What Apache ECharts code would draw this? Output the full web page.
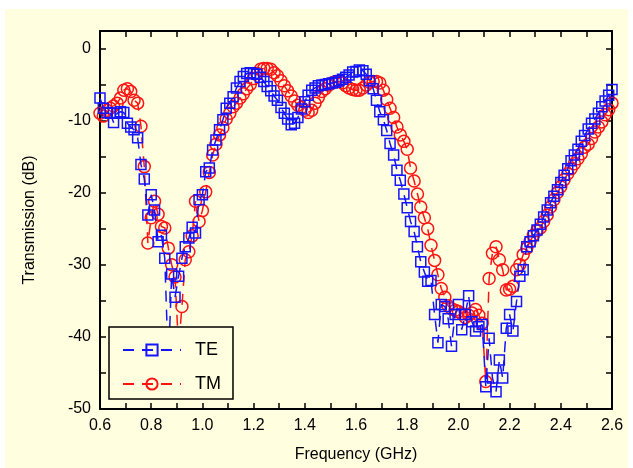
<!DOCTYPE html>
<html><head><meta charset="utf-8">
<script src="https://cdn.jsdelivr.net/npm/echarts@6/dist/echarts.min.js"></script>
<style>html,body{margin:0;padding:0;background:#fff}#c{width:633px;height:468px}</style>
</head><body><div id="c"></div>
<script>
const freq = [
0.600,0.613,0.627,0.640,0.653,0.667,0.680,0.693,0.707,0.720,0.733,0.747,0.760,0.773,0.787,
0.800,0.813,0.827,0.840,0.853,0.867,0.880,0.893,0.907,0.920,0.933,0.947,0.960,0.973,0.987,
1.000,1.013,1.027,1.040,1.053,1.067,1.080,1.093,1.107,1.120,1.133,1.147,1.160,1.173,1.187,
1.200,1.213,1.227,1.240,1.253,1.267,1.280,1.293,1.307,1.320,1.333,1.347,1.360,1.373,1.387,
1.400,1.413,1.427,1.440,1.453,1.467,1.480,1.493,1.507,1.520,1.533,1.547,1.560,1.573,1.587,
1.600,1.613,1.627,1.640,1.653,1.667,1.680,1.693,1.707,1.720,1.733,1.747,1.760,1.773,1.787,
1.800,1.813,1.827,1.840,1.853,1.867,1.880,1.893,1.907,1.920,1.933,1.947,1.960,1.973,1.987,
2.000,2.013,2.027,2.040,2.053,2.067,2.080,2.093,2.107,2.120,2.133,2.147,2.160,2.173,2.187,
2.200,2.213,2.227,2.240,2.253,2.267,2.280,2.293,2.307,2.320,2.333,2.347,2.360,2.373,2.387,
2.400,2.413,2.427,2.440,2.453,2.467,2.480,2.493,2.507,2.520,2.533,2.547,2.560,2.573,2.587,
2.600];
const teDb = [
-6.9,-8.3,-8.9,-9.0,-10.3,-9.0,-8.8,-8.9,-10.4,-10.9,-11.3,-12.4,-16.1,-18.1,-23.1,
-20.3,-22.4,-26.8,-25.9,-29.1,-44.0,-31.3,-34.5,-31.6,-29.1,-27.5,-26.3,-24.8,-25.6,-21.0,
-20.3,-17.1,-16.6,-14.1,-12.7,-11.3,-9.9,-8.3,-7.6,-6.7,-5.5,-4.6,-3.9,-3.5,-3.4,
-3.5,-3.6,-4.0,-4.6,-5.3,-5.9,-6.6,-7.2,-8.2,-9.0,-9.8,-10.6,-10.4,-9.6,-8.4,
-7.4,-6.5,-5.8,-5.5,-5.2,-5.1,-5.0,-4.9,-4.8,-4.7,-4.5,-4.3,-4.0,-3.7,-3.3,
-3.2,-3.0,-3.1,-3.6,-4.5,-5.6,-7.2,-8.8,-9.9,-11.4,-13.2,-14.8,-16.9,-18.3,-20.2,
-22.1,-24.0,-25.4,-27.5,-29.6,-31.0,-32.3,-32.2,-36.9,-40.8,-35.5,-35.8,-37.5,-41.3,-36.9,
-35.5,-39.0,-36.9,-34.3,-37.9,-39.2,-38.6,-38.3,-46.9,-40.2,-45.7,-47.6,-43.2,-45.7,-38.8,
-36.9,-39.2,-35.1,-31.6,-30.7,-27.5,-26.8,-26.0,-25.2,-24.4,-23.4,-22.4,-21.4,-20.5,-19.6,
-18.6,-17.6,-16.7,-15.6,-14.8,-14.0,-12.9,-12.1,-11.2,-10.4,-9.8,-9.0,-8.1,-7.3,-6.5,
-5.7];
const tmDb = [
-9.0,-9.4,-8.6,-8.3,-8.0,-7.6,-6.9,-5.8,-5.6,-6.0,-7.2,-7.6,-10.8,-16.4,-27.0,
-23.5,-21.2,-23.0,-24.7,-24.9,-27.7,-30.0,-31.7,-41.5,-35.8,-29.3,-28.2,-26.0,-21.2,-24.0,
-22.5,-19.9,-17.2,-14.8,-13.3,-12.0,-11.0,-9.8,-9.0,-8.1,-7.6,-6.9,-6.3,-5.6,-5.0,
-4.2,-3.5,-2.9,-2.8,-2.8,-2.9,-3.4,-3.8,-4.5,-5.2,-5.9,-6.6,-7.3,-7.9,-8.2,
-8.6,-8.9,-8.6,-7.6,-6.8,-6.0,-5.6,-5.1,-4.8,-4.6,-4.6,-4.8,-5.2,-5.5,-5.7,
-5.8,-5.8,-5.5,-5.1,-4.7,-4.6,-4.6,-4.8,-5.8,-7.1,-8.3,-9.6,-10.9,-12.0,-12.9,
-14.0,-16.6,-18.4,-20.2,-22.0,-23.5,-25.0,-27.3,-29.4,-31.4,-33.3,-34.5,-35.7,-36.1,-36.3,
-36.5,-36.8,-37.3,-37.0,-36.7,-36.2,-37.0,-38.1,-46.2,-31.9,-28.4,-27.5,-29.3,-30.7,-33.5,
-33.4,-33.0,-30.7,-30.0,-28.6,-27.7,-26.8,-25.9,-25.3,-24.9,-24.0,-23.1,-22.0,-21.0,-20.0,
-19.2,-18.2,-17.4,-16.7,-16.0,-15.3,-14.6,-13.7,-13.3,-12.5,-11.6,-10.9,-10.2,-9.2,-8.5,
-7.6];
const seriesNames = ['TE', 'TM'];
const xTitle = 'Frequency (GHz)';
const yTitle = 'Transmission (dB)';

const BG = '#FFFEDF';
const FONT = 'Liberation Sans, Arial, sans-serif';
const BLUE = '#1414FF';
const RED = '#FF1414';
const pairs = (ys) => freq.map((f, i) => [f, ys[i]]);

const xFmt = v => { const k = Math.round(v * 10); return k % 2 === 0 ? (k / 10).toFixed(1) : ''; };
const yFmt = v => { const k = Math.round(v); return (Math.abs(v - k) < 1e-6 && k % 10 === 0) ? String(k) : ''; };

const axisCommon = {
  axisLine: { show: true, onZero: false, lineStyle: { color: '#000', width: 2 } },
  axisTick: { show: true, inside: true, length: 6, lineStyle: { color: '#000', width: 1.5 } },
  splitLine: { show: false }
};

const chart = echarts.init(document.getElementById('c'), null, { renderer: 'canvas' });
chart.setOption({
  backgroundColor: '#fff',
  animation: false,
  graphic: [{ type: 'rect', z: -10, shape: { x: 5, y: 9, width: 623, height: 459 }, style: { fill: BG } }],
  grid: { left: 100, right: 21, top: 31, bottom: 59 },
  legend: {
    data: seriesNames, orient: 'vertical', left: 109, top: 327,
    backgroundColor: BG, borderColor: '#000', borderWidth: 1.5, borderRadius: 0,
    padding: [14, 12, 6, 13], itemWidth: 58, itemHeight: 14, itemGap: 16,
    textStyle: { fontFamily: FONT, fontSize: 18, color: '#000', padding: [0, 0, 0, 9] }
  },
  xAxis: [
    Object.assign({ type: 'value', min: 0.6, max: 2.6, interval: 0.1, position: 'bottom',
      name: xTitle, nameLocation: 'middle', nameGap: 38,
      nameTextStyle: { fontFamily: FONT, fontSize: 16, color: '#000' },
      axisLabel: { formatter: xFmt, fontFamily: FONT, fontSize: 16, color: '#000', margin: 9 } }, axisCommon),
    Object.assign({ type: 'value', min: 0.6, max: 2.6, interval: 0.1, position: 'top',
      axisLabel: { show: false } }, axisCommon)
  ],
  yAxis: [
    Object.assign({ type: 'value', min: -50, max: 2.4, interval: 5, position: 'left',
      name: yTitle, nameLocation: 'middle', nameGap: 62, nameRotate: 90,
      nameTextStyle: { fontFamily: FONT, fontSize: 16, color: '#000' },
      axisLabel: { formatter: yFmt, fontFamily: FONT, fontSize: 16, color: '#000', margin: 9, showMaxLabel: false } }, axisCommon),
    Object.assign({ type: 'value', min: -50, max: 2.4, interval: 5, position: 'right',
      axisLabel: { show: false } }, axisCommon)
  ],
  series: [
    { name: 'TM', type: 'line', data: pairs(tmDb), symbol: 'circle', symbolSize: 12, clip: false,
      itemStyle: { color: 'rgba(0,0,0,0)', borderColor: RED, borderWidth: 1.5 },
      lineStyle: { color: RED, width: 1.5, type: [11, 8] }, z: 2 },
    { name: 'TE', type: 'line', data: pairs(teDb), symbol: 'rect', symbolSize: 10, clip: false,
      itemStyle: { color: 'rgba(0,0,0,0)', borderColor: BLUE, borderWidth: 1.5 },
      lineStyle: { color: BLUE, width: 1.5, type: [11, 8] }, z: 3 }
  ]
});
</script></body></html>
